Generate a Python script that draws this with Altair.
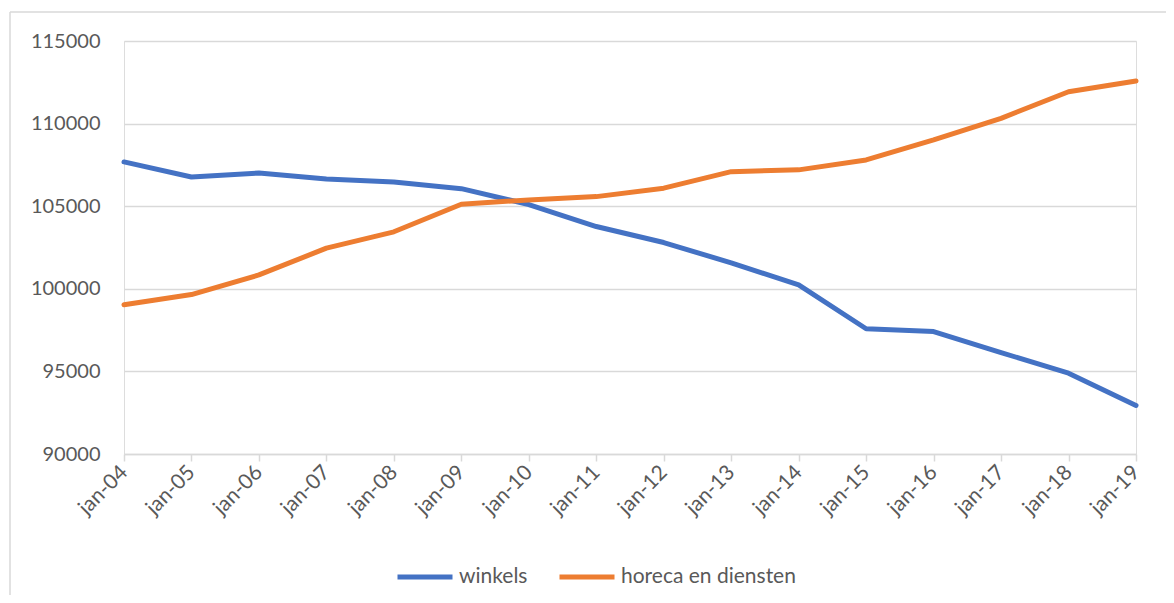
import altair as alt
import pandas as pd

years = ["jan-04", "jan-05", "jan-06", "jan-07", "jan-08", "jan-09", "jan-10", "jan-11",
         "jan-12", "jan-13", "jan-14", "jan-15", "jan-16", "jan-17", "jan-18", "jan-19"]
winkels = [107680, 106770, 107010, 106650, 106470, 106060, 105100, 103770,
           102800, 101570, 100240, 97580, 97410, 96140, 94890, 92940]
horeca = [99030, 99650, 100840, 102460, 103450, 105120, 105380, 105580,
          106090, 107090, 107200, 107800, 109010, 110320, 111930, 112580]
series_names = ["winkels", "horeca en diensten"]
colors = ["#4472C4", "#ED7D31"]
y_ticks = [90000, 95000, 100000, 105000, 110000, 115000]

rows = []
for i, yr in enumerate(years):
    rows.append({"jaar": yr, "reeks": series_names[0], "waarde": winkels[i], "ord": 0})
    rows.append({"jaar": yr, "reeks": series_names[1], "waarde": horeca[i], "ord": 1})
df = pd.DataFrame(rows)

FONT = "Lato"
W, H = 1012, 413

lines = alt.Chart(df).mark_line(strokeWidth=5, strokeCap="round", strokeJoin="round").encode(
    x=alt.X("jaar:O", sort=years, title=None,
            scale=alt.Scale(type="point", padding=0),
            axis=alt.Axis(labelAngle=-45, labelAlign="right", labelBaseline="middle",
                          labelFontSize=21, labelColor="#595959", labelFont=FONT,
                          tickColor="#D9D9D9", tickSize=7, tickWidth=1.5,
                          domainColor="#D9D9D9", domainWidth=1.5, labelPadding=8,
                          grid=False)),
    y=alt.Y("waarde:Q", title=None,
            scale=alt.Scale(domain=[90000, 115000], nice=False, zero=False),
            axis=alt.Axis(values=y_ticks, format="d", labelFontSize=20, labelColor="#595959",
                          labelFont=FONT, domain=False, ticks=False, labelPadding=24,
                          gridColor="#D9D9D9", gridWidth=1.5)),
    color=alt.Color("reeks:N", sort=series_names,
                    scale=alt.Scale(domain=series_names, range=colors),
                    legend=alt.Legend(title=None, orient="none", direction="horizontal",
                                      legendX=271, legendY=506,
                                      symbolType="stroke", symbolSize=3025,
                                      symbolStrokeWidth=5, labelFontSize=21,
                                      labelColor="#595959", labelFont=FONT,
                                      labelOffset=4, columnPadding=21, labelLimit=400)),
    order="ord:O",
)

border = alt.Chart(pd.DataFrame({"a": [0]})).mark_rule(color="#D9D9D9", strokeWidth=1.5).encode(
    x=alt.value(-114), x2=alt.value(1060), y=alt.value(-29), y2=alt.value(-29)
)
border_left = alt.Chart(pd.DataFrame({"a": [0]})).mark_rule(color="#D9D9D9", strokeWidth=1.5).encode(
    x=alt.value(-114), x2=alt.value(-114), y=alt.value(-29), y2=alt.value(560)
)

chart = alt.layer(border, border_left, lines).properties(
    width=W, height=H,
    autosize=alt.AutoSizeParams(type="none"),
    padding={"left": 116, "top": 33, "right": 30, "bottom": 141},
).configure_view(stroke=None).configure(background="white")

chart.save("out.html", embed_options={"renderer": "svg", "actions": False})
